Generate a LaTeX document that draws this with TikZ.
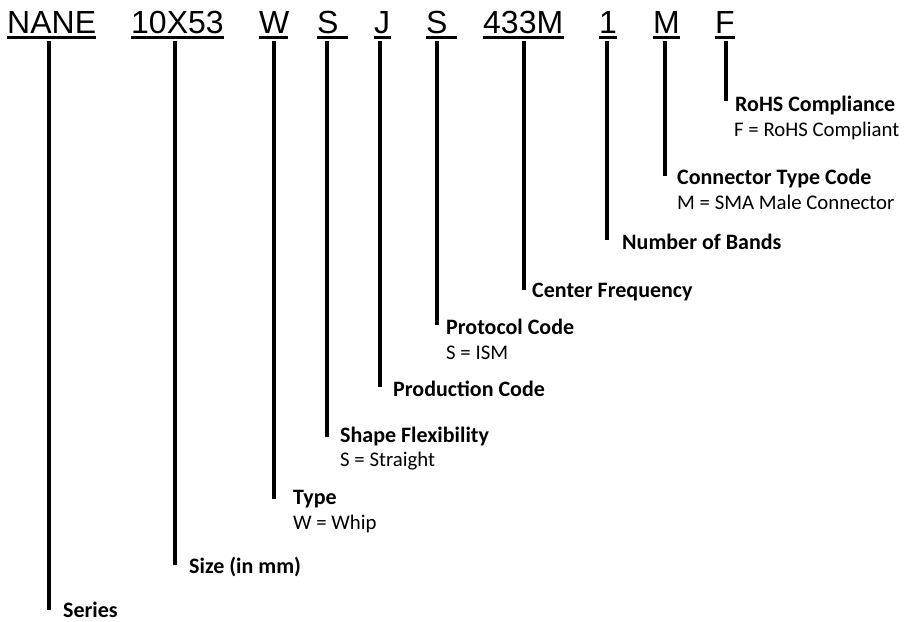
\documentclass[tikz,border=0pt]{standalone}
\usepackage{fontspec}
\setmainfont{Carlito}
\newfontfamily\codefont{Liberation Sans}
\begin{document}
\begin{tikzpicture}[x=1pt,y=-1pt,
  code/.style={anchor=base west,inner sep=0pt,font=\codefont\fontsize{32}{38}\selectfont},
  uline/.style={line width=2.8pt},
  lead/.style={line width=3.6pt},
  lbl/.style={anchor=base west,inner sep=0pt,font=\fontsize{22}{25}\selectfont\bfseries},
  sub/.style={anchor=base west,inner sep=0pt,font=\fontsize{20.8}{25}\selectfont}]
\useasboundingbox (0,0) rectangle (904,621);
% codes
\node[code] (cNANE) at (7,33) {NANE};
\node[code] (c10X) at (131,33) {10X53};
\node[code] (cW) at (259,33) {W};
\node[code] (cS1) at (317,33) {S};
\node[code] (cJ) at (374,33) {J};
\node[code] (cS2) at (426,33) {S};
\node[code] (c433) at (483,33) {433M};
\node[code] (c1) at (599,33) {1};
\node[code] (cM) at (653,33) {M};
\node[code] (cF) at (715,33) {F};
% underlines
\draw[uline] (7,37.5) -- (96,37.5);
\draw[uline] (131,37.5) -- (224,37.5);
\draw[uline] (259,37.5) -- (288,37.5);
\draw[uline] (317,37.5) -- (348,37.5);
\draw[uline] (374,37.5) -- (391,37.5);
\draw[uline] (426,37.5) -- (457,37.5);
\draw[uline] (483,37.5) -- (564,37.5);
\draw[uline] (599,37.5) -- (617,37.5);
\draw[uline] (653,37.5) -- (680,37.5);
\draw[uline] (715,37.5) -- (735,37.5);
% line ends
\coordinate (tNANE) at (49,41);   \coordinate (eNANE) at (49,610);
\coordinate (t10X) at (175,41);   \coordinate (e10X) at (175,565);
\coordinate (tW) at (274,41);     \coordinate (eW) at (274,499);
\coordinate (tS1) at (327,41);    \coordinate (eS1) at (327,437);
\coordinate (tJ) at (380,41);     \coordinate (eJ) at (380,387);
\coordinate (tS2) at (437,41);    \coordinate (eS2) at (437,325);
\coordinate (t433) at (524,41);   \coordinate (e433) at (524,290);
\coordinate (t1) at (607,41);     \coordinate (e1) at (607,240);
\coordinate (tM) at (665,41);     \coordinate (eM) at (665,176);
\coordinate (tF) at (726,41);     \coordinate (eF) at (726,101);
\foreach \n in {NANE,10X,W,S1,J,S2,433,1,M,F} \draw[lead] (t\n) -- (e\n);
% labels
\node[lbl] (lNANE) at (63,617) {Series};
\node[lbl] (l10X) at (189,573) {Size (in mm)};
\node[lbl] (lW) at (293,504) {Type};
\node[sub] (sW) at (293,529) {W = Whip};
\node[lbl] (lS1) at (340,442) {Shape Flexibility};
\node[sub] (sS1) at (340,466) {S = Straight};
\node[lbl] (lJ) at (393,396) {Production Code};
\node[lbl] (lS2) at (446,334) {Protocol Code};
\node[sub] (sS2) at (446,359) {S = ISM};
\node[lbl] (l433) at (532,297) {Center Frequency};
\node[lbl] (l1) at (622,249) {Number of Bands};
\node[lbl] (lM) at (677,184) {Connector Type Code};
\node[sub] (sM) at (677,209) {M = SMA Male Connector};
\node[lbl] (lF) at (735,111) {RoHS Compliance};
\node[sub] (sF) at (734,136) {F = RoHS Compliant};
\end{tikzpicture}
\end{document}
